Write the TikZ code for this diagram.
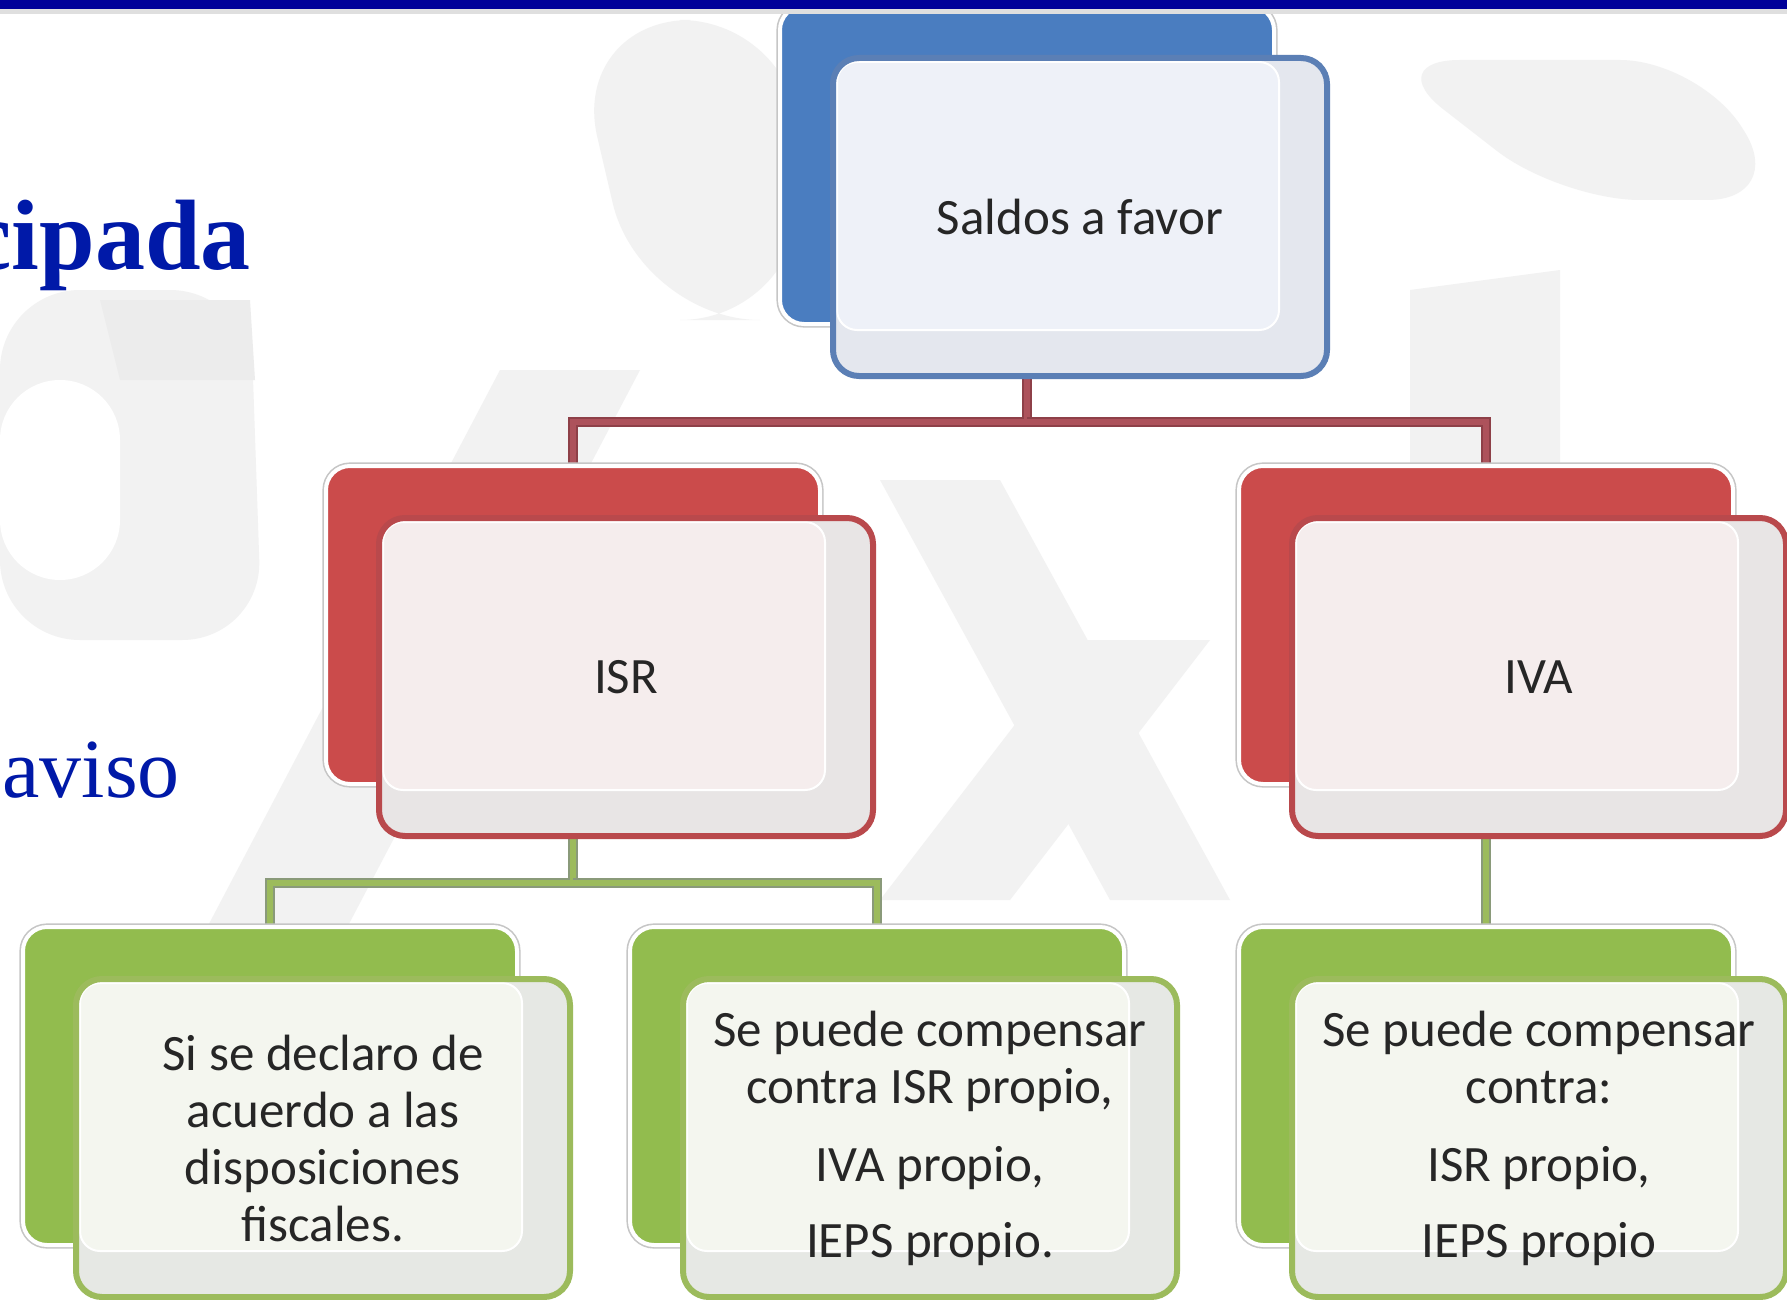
\documentclass[tikz,border=0pt]{standalone}
\usepackage{fontspec}
\setmainfont{Carlito}
\newfontfamily\titlefont{Liberation Serif}
\usetikzlibrary{calc}
\definecolor{topbar}{HTML}{000099}
\definecolor{titleblue}{HTML}{0019A8}
\definecolor{bBlue}{HTML}{4A7DC0}
\definecolor{bBlueLine}{HTML}{5B7FB5}
\definecolor{tBlue}{HTML}{EEF1F8}
\definecolor{gBlue}{HTML}{E4E7EE}
\definecolor{bRed}{HTML}{CB4B4B}
\definecolor{bRedLine}{HTML}{B9494C}
\definecolor{tRed}{HTML}{F5EDED}
\definecolor{gRed}{HTML}{E8E5E5}
\definecolor{bGreen}{HTML}{92BC4E}
\definecolor{bGreenLine}{HTML}{9CBB5C}
\definecolor{tGreen}{HTML}{F4F6EF}
\definecolor{gGreen}{HTML}{E6E8E4}
\definecolor{cRed}{HTML}{AD525B}
\definecolor{cRedDark}{HTML}{8E4048}
\definecolor{cGreen}{HTML}{9CBB5C}
\definecolor{cGreenDark}{HTML}{8A9A7A}
\definecolor{wm}{HTML}{F2F2F2}
\definecolor{wmdark}{HTML}{ECECEC}
\tikzset{
  backbox/.style={rectangle, rounded corners=12pt, minimum width=247pt, minimum height=159pt,
    inner sep=0pt, fill=#1, draw=white, line width=2pt,
    preaction={draw=gray!45, line width=3.6pt}},
  frontbox/.style n args={3}{rectangle, rounded corners=13pt, minimum width=247pt, minimum height=159pt,
    inner sep=0pt, fill=#3, draw=#1, line width=3pt,
    path picture={\fill[#2, rounded corners=10pt]
      ([shift={(2pt,-2pt)}]path picture bounding box.north west) rectangle
      ([shift={(-24pt,23pt)}]path picture bounding box.south east);
      \draw[white, line width=1pt, rounded corners=10pt]
      ([shift={(2pt,-2pt)}]path picture bounding box.north west) rectangle
      ([shift={(-24pt,23pt)}]path picture bounding box.south east);}},
  boxtext/.style={font=\fontsize{25.5pt}{28.5pt}\selectfont, text=black!85, align=center, inner sep=0pt},
  redcon/.style={draw=cRedDark, line width=5pt, postaction={draw=cRed, line width=3pt}},
  greencon/.style={draw=cGreenDark, line width=4.6pt, postaction={draw=cGreen, line width=2.8pt}},
}
\begin{document}
\begin{tikzpicture}[x=0.5pt,y=-0.5pt]
\useasboundingbox (0,0) rectangle (1787,1300);
\clip (0,0) rectangle (1787,1300);
\fill[white] (0,0) rectangle (1787,1300);
% faint watermark shapes
\fill[wm, rounded corners=40pt] (0,290) -- (250,290) -- (262,640) -- (0,640) -- cycle;
\fill[white, rounded corners=30pt] (0,380) -- (120,380) -- (120,580) -- (0,580) -- cycle;
\fill[wmdark] (100,300) -- (250,300) -- (255,380) -- (120,380) -- cycle;
\fill[wm, rounded corners=60pt] (570,20) -- (800,20) -- (800,320) -- (640,320) -- cycle;
\fill[wm] (500,370) -- (640,370) -- (330,960) -- (190,960) -- cycle;
\fill[wm] (880,480) -- (1000,480) -- (1230,900) -- (1110,900) -- cycle;
\fill[wm] (1080,640) -- (1210,640) -- (1010,900) -- (880,900) -- cycle;
\fill[wm] (1410,290) -- (1560,270) -- (1560,470) -- (1410,470) -- cycle;
\fill[wm, rounded corners=40pt] (1380,60) -- (1700,60) -- (1787,200) -- (1560,200) -- cycle;

% title fragments
\node[anchor=base east, inner sep=0pt, text=titleblue,
  font=\titlefont\bfseries\fontsize{50pt}{60pt}\selectfont] (ttl) at (251,270) {cipada};
\node[anchor=base west, inner sep=0pt, text=titleblue,
  font=\titlefont\fontsize{42pt}{50pt}\selectfont] (avs) at (2,797) {aviso};

% junction coordinates
\coordinate (jr) at (0,422);
\coordinate (jg) at (0,883);

% back box positions
\path (1027,165) coordinate (pS) (573,625) coordinate (pI) (1486,625) coordinate (pV)
      (270,1086) coordinate (pG1) (877,1086) coordinate (pG2) (1486,1086) coordinate (pG3);

% connectors (behind boxes)
\draw[redcon] (pS) -- (pS |- jr) -| (pI);
\draw[redcon] (pS |- jr) -| (pV);
\draw[greencon] (pI) -- (pI |- jg) -| (pG1);
\draw[greencon] (pI |- jg) -| (pG2);
\draw[greencon] (pV) -- (pG3);

% Saldos a favor
\node[backbox=bBlue] (saldosB) at (pS) {};
\node[frontbox={bBlueLine}{tBlue}{gBlue}] (saldosF) at ($(pS)+(53,52)$) {};
\node[boxtext] (saldos) at (saldosF) {Saldos a favor};

% ISR
\node[backbox=bRed] (isrB) at (pI) {};
\node[frontbox={bRedLine}{tRed}{gRed}] (isrF) at ($(pI)+(53,52)$) {};
\node[boxtext] (isr) at (isrF) {ISR};

% IVA
\node[backbox=bRed] (ivaB) at (pV) {};
\node[frontbox={bRedLine}{tRed}{gRed}] (ivaF) at ($(pV)+(53,52)$) {};
\node[boxtext] (iva) at (ivaF) {IVA};

% green 1
\node[backbox=bGreen] (g1B) at (pG1) {};
\node[frontbox={bGreenLine}{tGreen}{gGreen}] (g1F) at ($(pG1)+(53,52)$) {};
\node[boxtext] (g1) at (g1F) {Si se declaro de\\acuerdo a las\\disposiciones\\fiscales.};

% green 2
\node[backbox=bGreen] (g2B) at (pG2) {};
\node[frontbox={bGreenLine}{tGreen}{gGreen}] (g2F) at ($(pG2)+(53,52)$) {};
\node[boxtext] (g2) at (g2F) {Se puede compensar\\contra ISR propio,\\[10.5pt]IVA propio,\\[9.5pt]IEPS propio.};

% green 3
\node[backbox=bGreen] (g3B) at (pG3) {};
\node[frontbox={bGreenLine}{tGreen}{gGreen}] (g3F) at ($(pG3)+(53,52)$) {};
\node[boxtext] (g3) at (g3F) {Se puede compensar\\contra:\\[10.5pt]ISR propio,\\[9.5pt]IEPS propio};

% top bar
\fill[gray!25] (0,8) rectangle (1787,14);
\fill[topbar] (0,0) rectangle (1787,9);
\end{tikzpicture}
\end{document}
